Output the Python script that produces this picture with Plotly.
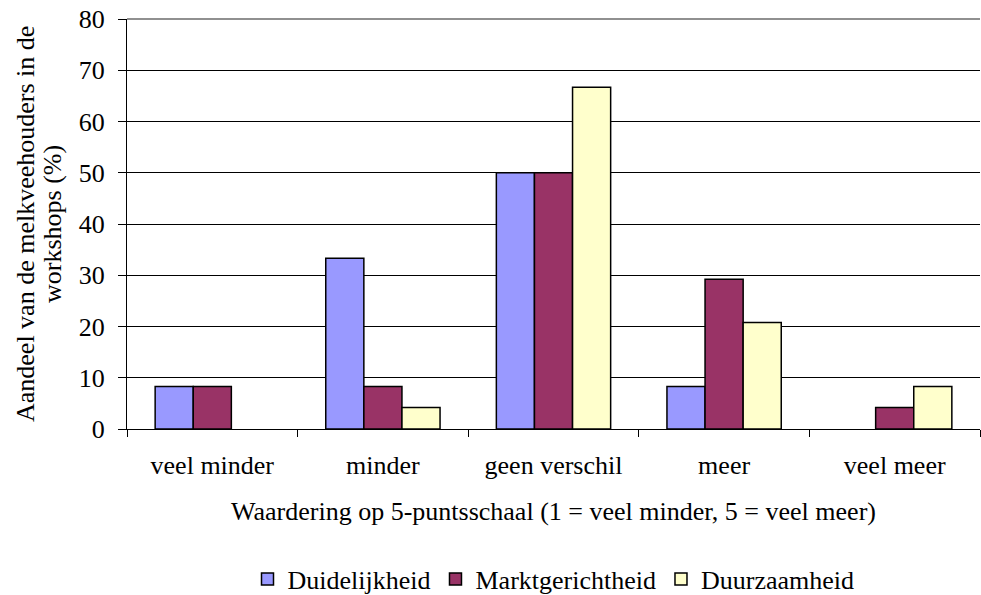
import plotly.graph_objects as go

categories = ["veel minder", "minder", "geen verschil", "meer", "veel meer"]
duidelijkheid = [8.3, 33.3, 50.0, 8.3, 0.0]
marktgerichtheid = [8.3, 8.3, 50.0, 29.2, 4.2]
duurzaamheid = [0.0, 4.2, 66.7, 20.8, 8.3]
y_ticks = [0, 10, 20, 30, 40, 50, 60, 70, 80]
y_title_lines = ["Aandeel van de melkveehouders in de", "workshops (%)"]

FONT = "Times New Roman, Liberation Serif, serif"
FS = 26
L, R, T, B = 127, 1, 19, 166
W, H = 981, 595
PW = W - L - R

fig = go.Figure()
for name, vals, color in [
    ("Duidelijkheid", duidelijkheid, "#9999FF"),
    ("Marktgerichtheid", marktgerichtheid, "#993366"),
    ("Duurzaamheid", duurzaamheid, "#FFFFCC"),
]:
    fig.add_trace(go.Bar(
        name=name, x=categories, y=[v if v else None for v in vals],
        marker=dict(color=color, line=dict(color="black", width=1.5)),
    ))

# plot-area top border (grey, as in the reference)
fig.add_shape(type="line", xref="paper", yref="paper", x0=0, x1=1, y0=1, y1=1,
              line=dict(color="#909090", width=2))

# two-line y-axis title with tight line spacing
for line_text, px in zip(y_title_lines, [25, 52]):
    fig.add_annotation(
        text=line_text, textangle=-90, showarrow=False,
        xref="paper", yref="paper", x=(px - L) / PW, y=0.5,
        xanchor="center", yanchor="middle", font=dict(size=FS),
    )

fig.update_layout(
    width=W, height=H,
    margin=dict(l=L, r=R, t=T, b=B, autoexpand=False),
    paper_bgcolor="white", plot_bgcolor="white",
    barmode="group", bargap=0.33, bargroupgap=0,
    font=dict(family=FONT, size=FS, color="black"),
    showlegend=True,
    legend=dict(orientation="h", x=0.5, xanchor="center", y=-0.366, yanchor="middle",
                font=dict(size=FS), traceorder="normal", itemwidth=30),
    xaxis=dict(
        type="category", tickson="boundaries", ticks="outside", ticklen=7,
        tickcolor="black", showline=True, linecolor="black", linewidth=1,
        showgrid=False, ticklabelstandoff=13, automargin=False,
        title=dict(text="Waardering op 5-puntsschaal (1 = veel minder, 5 = veel meer)",
                   standoff=22, font=dict(size=FS)),
    ),
    yaxis=dict(
        range=[0, 80], tickvals=y_ticks, ticks="outside", ticklen=8,
        tickcolor="black", showline=True, linecolor="black", linewidth=1,
        showgrid=True, gridcolor="black", gridwidth=1, zeroline=False,
        ticklabelstandoff=8, automargin=False,
    ),
)

fig.write_html("out.html", config={"displayModeBar": False},
               post_script="document.body.style.margin='0px';")
